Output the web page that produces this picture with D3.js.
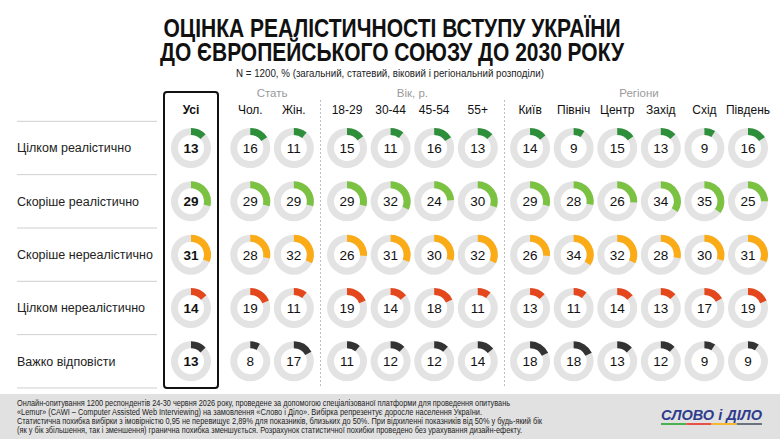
<!DOCTYPE html>
<html>
<head>
<meta charset="utf-8">
<script src="https://cdn.jsdelivr.net/npm/d3@7"></script>
<style>
  body { margin: 0; background: #fff; }
  svg { display: block; font-family: "Liberation Sans", Arial, sans-serif; }
</style>
</head>
<body>
<div id="chart"></div>
<script>
// --- data ---
const answers = [
  "Цілком реалістично",
  "Скоріше реалістично",
  "Скоріше нереалістично",
  "Цілком нереалістично",
  "Важко відповісти"
];

const groups = [
  {name: "",        cols: ["Усі"]},
  {name: "Стать",   cols: ["Чол.", "Жін."]},
  {name: "Вік, р.", cols: ["18-29", "30-44", "45-54", "55+"]},
  {name: "Регіони", cols: ["Київ", "Північ", "Центр", "Захід", "Схід", "Південь"]}
];

// one row per answer, columns in the order of groups above
const fullyRealistic    = [13, 16, 11, 15, 11, 16, 13, 14,  9, 15, 13,  9, 16];
const ratherRealistic   = [29, 29, 29, 29, 32, 24, 30, 29, 28, 26, 34, 35, 25];
const ratherUnrealistic = [31, 28, 32, 26, 31, 30, 32, 26, 34, 32, 28, 30, 31];
const fullyUnrealistic  = [14, 19, 11, 19, 14, 18, 11, 13, 11, 14, 13, 17, 19];
const hardToSay         = [13,  8, 17, 11, 12, 12, 14, 18, 18, 13, 12,  9,  9];

const values = [fullyRealistic, ratherRealistic, ratherUnrealistic, fullyUnrealistic, hardToSay];

const title = ["ОЦІНКА РЕАЛІСТИЧНОСТІ ВСТУПУ УКРАЇНИ", "ДО ЄВРОПЕЙСЬКОГО СОЮЗУ ДО 2030 РОКУ"];
const subtitle = "N = 1200, % (загальний, статевий, віковий і регіональний розподіли)";
const footnote = [
  "Онлайн-опитування 1200 респондентів 24-30 червня 2026 року, проведене за допомогою спеціалізованої платформи для проведення опитувань",
  "«Lemur» (CAWI – Computer Assisted Web Interviewing) на замовлення «Слово і Діло». Вибірка репрезентує доросле населення України.",
  "Статистична похибка вибірки з імовірністю 0,95 не перевищує 2,89% для показників, близьких до 50%. При відхиленні показників від 50% у будь-який бік",
  "(як у бік збільшення, так і зменшення) гранична похибка зменшується. Розрахунок статистичної похибки проведено без урахування дизайн-ефекту."
];

// --- layout ---
const W = 780, H = 439;
const colors = ["#2e8f3b", "#7cc242", "#fbab15", "#e5471d", "#333333"];
const groupGap = [0, 0.36, 0.58, 0.78];   // extra slot offset before each group

const cols = [];
groups.forEach((g, gi) => g.cols.forEach(c => {
  cols.push({name: c, group: gi, slot: cols.length + groupGap[gi]});
}));

const x = d3.scaleLinear().domain([0, 12.78]).range([191, 748]);
const y = d3.scaleLinear().domain([0, answers.length - 1]).range([148, 361.3]);
const angle = d3.scaleLinear().domain([0, 100]).range([0, 2 * Math.PI]);
const rowStep = y(1) - y(0);

const arc = d3.arc().innerRadius(13).outerRadius(20);

const svg = d3.select("#chart").append("svg")
  .attr("width", W)
  .attr("height", H);

// title
svg.selectAll("text.title")
  .data(title)
  .enter().append("text")
  .attr("class", "title")
  .attr("x", 392)
  .attr("y", (d, i) => 37 + i * 23.5)
  .attr("text-anchor", "middle")
  .attr("textLength", (d, i) => i ? 464 : 457)
  .attr("lengthAdjust", "spacingAndGlyphs")
  .style("font-family", "'Liberation Sans Narrow', 'Arial Narrow', 'Liberation Sans', sans-serif")
  .style("font-weight", "bold")
  .style("font-size", "26px")
  .style("fill", "#111")
  .text(d => d);

svg.append("text")
  .attr("x", 390)
  .attr("y", 77)
  .attr("text-anchor", "middle")
  .attr("textLength", 308)
  .attr("lengthAdjust", "spacingAndGlyphs")
  .style("font-size", "10.5px")
  .style("fill", "#222")
  .text(subtitle);

// row separators and labels
svg.selectAll("line.row")
  .data(d3.range(answers.length + 1))
  .enter().append("line")
  .attr("class", "row")
  .attr("x1", 17).attr("x2", 157)
  .attr("y1", d => y(d) - rowStep / 2)
  .attr("y2", d => y(d) - rowStep / 2)
  .style("stroke", "#cfcfcf")
  .style("stroke-width", 1);

svg.selectAll("text.answer")
  .data(answers)
  .enter().append("text")
  .attr("class", "answer")
  .attr("x", 17)
  .attr("y", (d, i) => y(i))
  .attr("dy", "0.35em")
  .style("font-size", "12.5px")
  .style("fill", "#222")
  .text(d => d);

// dashed group separators
[[2, 3], [6, 7]].forEach(([a, b]) => {
  const sx = Math.round((x(cols[a].slot) + x(cols[b].slot)) / 2) + 0.5;
  svg.append("line")
    .attr("x1", sx).attr("x2", sx)
    .attr("y1", 100).attr("y2", 386)
    .style("stroke", "#bdbdbd")
    .style("stroke-dasharray", "2,2");
});

// box around total column
svg.append("rect")
  .attr("x", x(0) - 27)
  .attr("y", 92)
  .attr("width", 54)
  .attr("height", 296)
  .attr("rx", 3)
  .style("fill", "none")
  .style("stroke", "#111")
  .style("stroke-width", 2);

// group headers
groups.filter(g => g.name).forEach(g => {
  const cs = cols.filter(c => g.cols.includes(c.name));
  svg.append("text")
    .attr("x", (x(cs[0].slot) + x(cs[cs.length - 1].slot)) / 2)
    .attr("y", 93)
    .attr("dy", "0.35em")
    .attr("text-anchor", "middle")
    .style("font-size", "11.5px")
    .style("fill", "#9a9a9a")
    .text(g.name);
});

// column headers
svg.selectAll("text.col")
  .data(cols)
  .enter().append("text")
  .attr("class", "col")
  .attr("x", d => x(d.slot))
  .attr("y", 110)
  .attr("dy", "0.35em")
  .attr("text-anchor", "middle")
  .style("font-size", "12px")
  .style("font-weight", d => d.group === 0 ? "bold" : "normal")
  .style("fill", "#111")
  .text(d => d.name);

// donuts
values.forEach((row, ri) => {
  const cell = svg.selectAll("g.cell-" + ri)
    .data(row)
    .enter().append("g")
    .attr("class", "cell-" + ri)
    .attr("transform", (d, ci) => `translate(${x(cols[ci].slot)},${y(ri)})`);

  cell.append("path")
    .attr("d", arc({startAngle: 0, endAngle: 2 * Math.PI}))
    .style("fill", "#e3e3e3");

  cell.append("path")
    .attr("d", d => arc({startAngle: 0, endAngle: angle(d)}))
    .style("fill", colors[ri]);

  cell.append("text")
    .attr("text-anchor", "middle")
    .attr("dy", "0.36em")
    .style("font-size", "13.5px")
    .style("font-weight", (d, ci) => ci === 0 ? "bold" : "normal")
    .style("fill", "#111")
    .text(d => d);
});

// footer
svg.append("rect")
  .attr("x", 0).attr("y", 394)
  .attr("width", W).attr("height", H - 394)
  .style("fill", "#e1e1e1");

const noteLen = [493, 465, 525, 505];
svg.selectAll("text.note")
  .data(footnote)
  .enter().append("text")
  .attr("class", "note")
  .attr("x", 17)
  .attr("y", (d, i) => 406 + i * 9)
  .attr("textLength", (d, i) => noteLen[i])
  .attr("lengthAdjust", "spacingAndGlyphs")
  .style("font-family", "'Liberation Sans Narrow', 'Arial Narrow', 'Liberation Sans', sans-serif")
  .style("font-size", "8.3px")
  .style("fill", "#222")
  .text(d => d);

// logo
const logo = svg.append("g");
logo.append("text")
  .attr("x", 661)
  .attr("y", 420)
  .attr("textLength", 101)
  .attr("lengthAdjust", "spacingAndGlyphs")
  .style("font-size", "14.5px")
  .style("font-weight", "bold")
  .style("font-style", "italic")
  .style("fill", "#2e3c8e")
  .text("СЛОВО і ДІЛО");

["#4caf50", "#e8504a", "#f5b82e", "#6b7280"].forEach((c, i) => {
  logo.append("rect")
    .attr("x", 661 + i * 25.25)
    .attr("y", 423)
    .attr("width", 25.25)
    .attr("height", 2)
    .style("fill", c);
});
</script>
</body>
</html>
